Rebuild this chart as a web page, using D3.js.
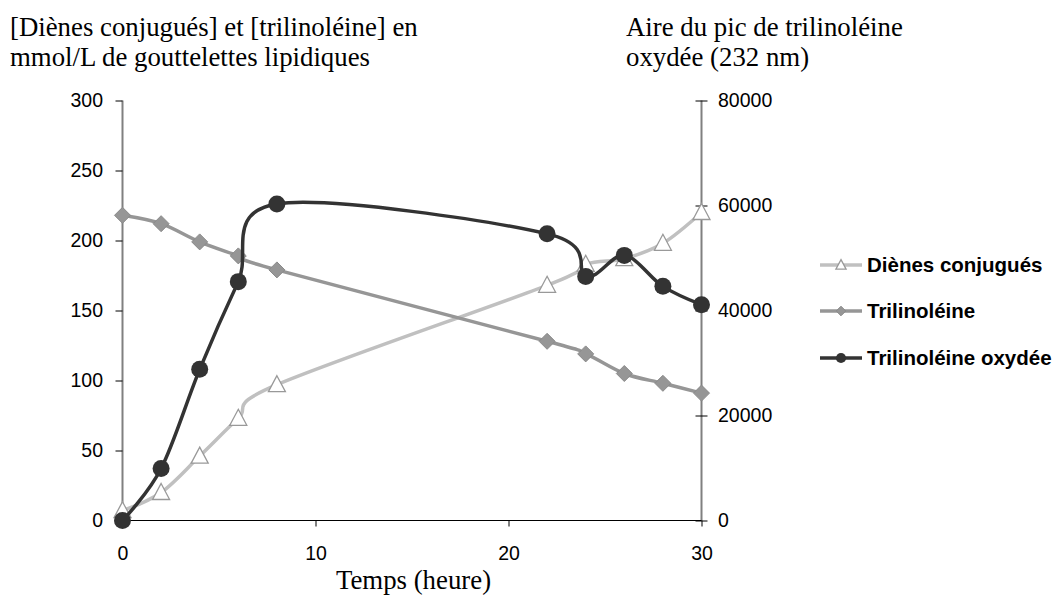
<!DOCTYPE html>
<html>
<head>
<meta charset="utf-8">
<script src="https://cdn.jsdelivr.net/npm/d3@7"></script>
<style>
  html, body { margin: 0; padding: 0; background: #fff; }
  svg { display: block; }
</style>
</head>
<body>
<svg id="chart" width="1057" height="599"></svg>
<script>
// Sampling times (hours)
const temps = [0, 2, 4, 6, 8, 22, 24, 26, 28, 30];
// Conjugated dienes, mmol/L
const dienes = [7, 20, 46, 73, 97, 168, 183, 187, 198, 220];
// Trilinolein, mmol/L
const trilinoleine = [218, 212, 199, 189, 179, 128, 119, 105, 98, 91];
// Oxidised trilinolein peak area at 232 nm (right axis)
const oxydee = [0, 9900, 28800, 45500, 60300, 54600, 46500, 50500, 44600, 41100];

const xTicks = [0, 10, 20, 30];
const yLeftTicks = [0, 50, 100, 150, 200, 250, 300];
const yRightTicks = [0, 20000, 40000, 60000, 80000];

const legendNames = ["Diènes conjugués", "Trilinoléine", "Trilinoléine oxydée"];

const svg = d3.select("#chart");
const x = d3.scaleLinear().domain([0, 30]).range([122.5, 701.5]);
const yL = d3.scaleLinear().domain([0, 300]).range([520.5, 100.5]);
const yR = d3.scaleLinear().domain([0, 80000]).range([520.5, 100.5]);

const sans = "Liberation Sans, Arial, sans-serif";
const serif = "Liberation Serif, Times New Roman, serif";
const tickFont = 19.5;
const serifFont = 26.8;
const legendFont = 20.5;

// Axes
const gL = svg.append("g").attr("transform", "translate(122.5,0)")
  .call(d3.axisLeft(yL).tickValues(yLeftTicks).tickSize(7).tickPadding(12.5).tickFormat(d3.format("d")));
gL.select(".domain").attr("stroke", "#808080").attr("stroke-width", 2).attr("d", "M0,100.5V520.5");
gL.selectAll(".tick line").attr("stroke", "#000");

const gR = svg.append("g").attr("transform", "translate(701.5,0)")
  .call(d3.axisRight(yR).tickValues(yRightTicks).tickSize(0).tickPadding(16.5).tickFormat(d3.format("d")));
gR.select(".domain").attr("stroke", "#808080").attr("stroke-width", 2).attr("d", "M0,100.5V520.5");
gR.selectAll(".tick").append("line").attr("x1", -6).attr("x2", 6).attr("stroke", "#000");

const gB = svg.append("g").attr("transform", "translate(0,520.5)")
  .call(d3.axisBottom(x).tickValues(xTicks).tickSize(6).tickPadding(19.5).tickFormat(d3.format("d")));
gB.select(".domain").attr("stroke", "#000").attr("stroke-width", 1).attr("d", "M122.5,0H701.5");
gB.selectAll(".tick line").attr("stroke", "#000").filter(d => d === 0).remove();

svg.selectAll(".tick text").attr("font-family", sans).attr("font-size", tickFont).attr("fill", "#000");

// Titles
const tl = svg.append("text").attr("font-family", serif).attr("font-size", serifFont).attr("fill", "#000");
tl.append("tspan").attr("x", 10).attr("y", 36).text("[Diènes conjugués] et [trilinoléine] en");
tl.append("tspan").attr("x", 10).attr("y", 66).text("mmol/L de gouttelettes lipidiques");
const tr = svg.append("text").attr("font-family", serif).attr("font-size", serifFont).attr("fill", "#000");
tr.append("tspan").attr("x", 626).attr("y", 36).text("Aire du pic de trilinoléine");
tr.append("tspan").attr("x", 626).attr("y", 66).text("oxydée (232 nm)");
svg.append("text").attr("x", 413.5).attr("y", 589).attr("text-anchor", "middle")
  .attr("font-family", serif).attr("font-size", serifFont).text("Temps (heure)");

const curve = d3.curveCardinal.tension(0);

const series = [
  { vals: dienes, y: yL, line: "#c0c0c0", shape: "tri", fill: "#fff", stroke: "#999" },
  { vals: trilinoleine, y: yL, line: "#969696", shape: "dia", fill: "#969696", stroke: "#8a8a8a" },
  { vals: oxydee, y: yR, line: "#333333", shape: "cir", fill: "#333333", stroke: "#333333" }
];

function marker(g, shape, cx, cy, fill, stroke, s) {
  if (shape === "tri") {
    g.append("path").attr("d", `M${cx},${cy - 9*s}L${cx + 8.5*s},${cy + 7*s}L${cx - 8.5*s},${cy + 7*s}Z`)
      .attr("fill", fill).attr("stroke", stroke).attr("stroke-width", 1.3);
  } else if (shape === "dia") {
    g.append("path").attr("d", `M${cx},${cy - 8*s}L${cx + 8*s},${cy}L${cx},${cy + 8*s}L${cx - 8*s},${cy}Z`)
      .attr("fill", fill).attr("stroke", stroke).attr("stroke-width", 1);
  } else {
    g.append("circle").attr("cx", cx).attr("cy", cy).attr("r", 8.5 * s).attr("fill", fill);
  }
}

series.forEach(s => {
  const g = svg.append("g");
  const pts = temps.map((t, i) => [x(t), s.y(s.vals[i])]);
  g.append("path").attr("d", d3.line().curve(curve)(pts))
    .attr("fill", "none").attr("stroke", s.line).attr("stroke-width", 3.5);
  pts.forEach(p => marker(g, s.shape, p[0], p[1], s.fill, s.stroke, 1));
});

// Legend
const legY = [265, 311, 358];
series.forEach((s, i) => {
  const g = svg.append("g");
  g.append("line").attr("x1", 820).attr("x2", 862).attr("y1", legY[i]).attr("y2", legY[i])
    .attr("stroke", s.line).attr("stroke-width", 3.5);
  marker(g, s.shape, 841, legY[i], s.fill, s.stroke, 0.6);
  g.append("text").attr("x", 867).attr("y", legY[i] + 7.3).attr("font-family", sans)
    .attr("font-size", legendFont).attr("font-weight", "bold").text(legendNames[i]);
});
</script>
</body>
</html>
